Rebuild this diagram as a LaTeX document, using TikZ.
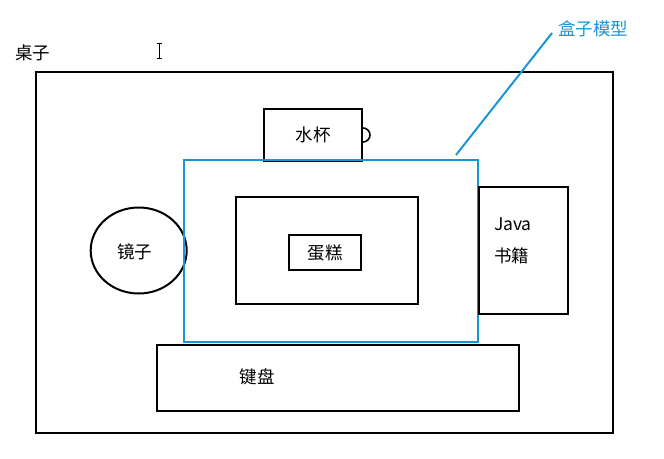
\documentclass[tikz,border=0pt]{standalone}
\usepackage{fontspec}
\setmainfont{Noto Sans CJK SC}
\usetikzlibrary{shapes.geometric}
\definecolor{boxblue}{RGB}{23,150,214}

\begin{document}
\begin{tikzpicture}[x=1pt, y=-1pt, line width=2pt,
    font=\fontsize{17.5}{20}\selectfont,
    thing/.style={draw, rectangle, inner sep=0pt},
    thingtxt/.style={inner sep=1pt}]
    \useasboundingbox (0,0) rectangle (664,458);

    % the desk and what stands on it
    \node[thing, minimum width=577pt, minimum height=361pt] (desk) at (324,252.5) {};
    \node[thingtxt] (desktxt) at (33,53) {桌子};

    \node[thing, minimum width=98pt, minimum height=52pt] (cup) at (313,135) {水杯};
    \draw[line width=1.6pt] (cup.east) ++(0,-7) arc[start angle=90, end angle=-90, radius=7pt];

    \node[draw, ellipse, inner sep=0pt, minimum width=96pt, minimum height=86pt] (mirror) at (138.7,250.5) {};
    \node[thingtxt] (mirrortxt) at (134.5,252) {镜子};

    \node[thing, minimum width=182pt, minimum height=107pt] (inner) at (326.5,250.8) {};
    \node[thing, minimum width=72pt, minimum height=35pt] (cake) at (325,252.7) {蛋糕};

    \node[thing, minimum width=294pt, minimum height=182pt, draw=boxblue] (model) at (330.7,251) {};
    \node[thingtxt, text=boxblue] (modeltxt) at (593,29) {盒子模型};
    \coordinate (tip) at (456,155);
    \draw[boxblue] (tip) -- ([shift={(-4,4)}]modeltxt.west);

    \node[thing, minimum width=89pt, minimum height=127pt] (book) at (523.7,250) {};
    \node[thingtxt, anchor=west, align=left, font=\fontsize{17.5}{32}\selectfont] (booktxt) at (492,241) {Java\\书籍};

    \node[thing, minimum width=362pt, minimum height=66pt] (keys) at (338.3,378) {};
    \node[thingtxt] (keystxt) at (257,377) {键盘};

    % text cursor
    \draw[line width=0.6pt] (157,43) -- (162,43) (159.5,43) -- (159.5,58) (157,58) -- (162,58);
\end{tikzpicture}
\end{document}
